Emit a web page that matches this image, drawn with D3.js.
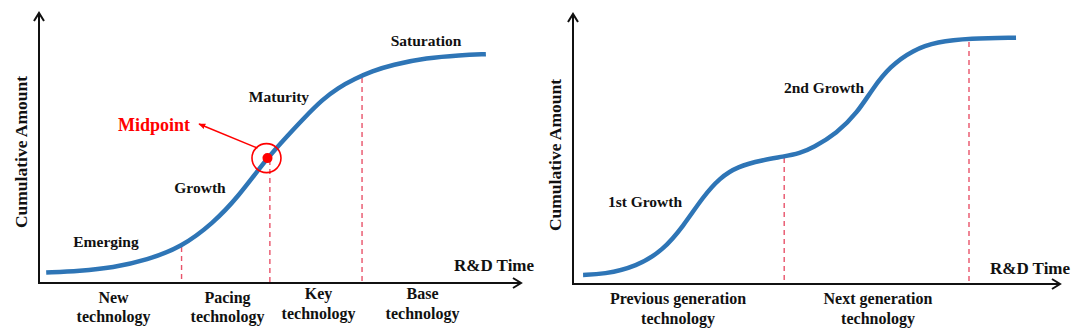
<!DOCTYPE html>
<html>
<head>
<meta charset="utf-8">
<script src="https://cdn.jsdelivr.net/npm/d3@7"></script>
<style>
  html, body { margin: 0; padding: 0; background: #fff; }
  svg { display: block; }
  text { font-family: "Liberation Serif", "Times New Roman", serif; font-weight: bold; fill: #111; }
</style>
</head>
<body>
<svg id="chart" width="1080" height="336"></svg>
<script>
// ---------------- DATA ----------------
// Left panel: single S-curve (time 0-100, cumulative amount 0-100)
const sTime   = [1.5, 8.5, 15.4, 22.5, 29.7, 36.3, 41.3, 47.5, 51.9, 55.4, 59.0, 62.3, 65.8, 69.4, 73.5, 80.8, 87.7, 93.1];
const sAmount = [3.9, 4.5, 5.7, 8.6, 13.4, 22.4, 31.7, 46.6, 55.2, 61.9, 68.4, 72.8, 76.2, 79.0, 81.4, 84.0, 85.0, 85.4];
const sDividerTime   = [29.7, 48.1, 67.3];
const sDividerAmount = [13.4, 45.9, 76.5];
const sMidpoint = {time: 47.6, amount: 46.6};
const sStageLabels = ["Emerging", "Growth", "Maturity", "Saturation"];
const sTechLabels = [["New", "technology"], ["Pacing", "technology"], ["Key", "technology"], ["Base", "technology"]];

// Right panel: double S-curve
const dTime   = [2.1, 6.3, 13.3, 18.8, 22.9, 27.1, 30.6, 34.2, 39.6, 43.8, 47.3, 50.0, 55.0, 59.2, 62.5, 66.0, 70.8, 75.8, 82.7, 92.3];
const dAmount = [3.4, 3.6, 6.5, 12.7, 21.4, 32.6, 39.6, 43.8, 46.3, 47.5, 48.8, 50.8, 56.3, 63.8, 73.1, 81.1, 87.3, 90.4, 91.7, 91.9];
const dDividerTime   = [44.0, 82.5];
const dDividerAmount = [47.0, 90.3];
const dStageLabels = ["1st Growth", "2nd Growth"];
const dTechLabels = [["Previous generation", "technology"], ["Next generation", "technology"]];

const axisXLabel = "R&D Time";
const axisYLabel = "Cumulative Amount";
const midpointLabel = "Midpoint";

// ---------------- STYLE / LAYOUT ----------------
const curveColor = "#2e75b6";
const dashColor = "#e8536a";
const red = "#ff0000";

const svg = d3.select("#chart");

function drawPanel(cfg) {
  const g = svg.append("g");
  const x = d3.scaleLinear().domain([0, 100]).range([cfg.x0, cfg.x1]);
  const y = d3.scaleLinear().domain([0, 100]).range([cfg.y0, cfg.y1]);

  g.append("g").attr("transform", `translate(0,${cfg.y0})`)
    .call(d3.axisBottom(x).tickValues([]).tickSizeOuter(0))
    .call(s => s.select(".domain").attr("stroke", "#111").attr("stroke-width", 2)
      .attr("d", `M${cfg.x0 - 1},0H${cfg.xTip}`));
  g.append("g").attr("transform", `translate(${cfg.x0},0)`)
    .call(d3.axisLeft(y).tickValues([]).tickSizeOuter(0))
    .call(s => s.select(".domain").attr("stroke", "#111").attr("stroke-width", 2)
      .attr("d", `M0,${cfg.y0 + 1}V${cfg.yTip}`));
  g.append("path").attr("fill", "none").attr("stroke", "#111").attr("stroke-width", 2)
    .attr("d", `M${cfg.xTip - 8},${cfg.y0 - 5}L${cfg.xTip},${cfg.y0}L${cfg.xTip - 8},${cfg.y0 + 5}`);
  g.append("path").attr("fill", "none").attr("stroke", "#111").attr("stroke-width", 2)
    .attr("d", `M${cfg.x0 - 5},${cfg.yTip + 8}L${cfg.x0},${cfg.yTip}L${cfg.x0 + 5},${cfg.yTip + 8}`);

  g.selectAll("line.div").data(cfg.divT.map((t, i) => ({t, a: cfg.divA[i]})))
    .enter().append("line").attr("class", "div")
    .attr("x1", d => x(d.t)).attr("x2", d => x(d.t))
    .attr("y1", d => y(d.a)).attr("y2", cfg.y0 - 1)
    .attr("stroke", dashColor).attr("stroke-width", 1.4).attr("stroke-dasharray", "5,4");

  const pts = cfg.t.map((t, i) => [t, cfg.a[i]]);
  g.append("path").datum(pts)
    .attr("fill", "none").attr("stroke", curveColor).attr("stroke-width", 4.5)
    .attr("d", d3.line().x(d => x(d[0])).y(d => y(d[1])).curve(d3.curveBasis));

  cfg.labels.forEach(l => {
    g.append("text").attr("x", l.x).attr("y", l.y).attr("dy", "0.35em")
      .attr("text-anchor", "middle").style("font-size", l.size + "px")
      .style("fill", l.color || "#111").text(l.text);
  });
  g.append("text").attr("transform", `translate(${cfg.yLabelX},${cfg.yLabelY}) rotate(-90)`)
    .attr("dy", "0.35em").attr("text-anchor", "middle").style("font-size", "17.5px").text(axisYLabel);
  g.append("text").attr("x", cfg.xLabelX).attr("y", cfg.xLabelY).attr("dy", "0.35em")
    .attr("text-anchor", "middle").style("font-size", "17px").text(axisXLabel);

  cfg.tech.forEach((lines, i) => {
    const p = cfg.techPos[i];
    lines.forEach((ln, j) => {
      g.append("text").attr("x", p[0]).attr("y", p[1] + j * p[2]).attr("dy", "0.35em")
        .attr("text-anchor", "middle").style("font-size", "16px").text(ln);
    });
  });
  return {g, x, y};
}

const L = drawPanel({
  x0: 39, x1: 519, xTip: 521, y0: 283, y1: 15, yTip: 13,
  t: sTime, a: sAmount, divT: sDividerTime, divA: sDividerAmount,
  labels: [
    {text: sStageLabels[0], x: 106, y: 242, size: 15.5},
    {text: sStageLabels[1], x: 200, y: 188, size: 15.5},
    {text: sStageLabels[2], x: 279, y: 97, size: 15.5},
    {text: sStageLabels[3], x: 426, y: 41, size: 15.5},
    {text: midpointLabel, x: 154, y: 125, size: 18, color: red}
  ],
  yLabelX: 21, yLabelY: 152, xLabelX: 494, xLabelY: 265,
  tech: sTechLabels,
  techPos: [[113.5, 297.5, 19], [227.5, 297.5, 19], [318.5, 293, 20], [422.5, 293, 20]]
});

const mx = L.x(sMidpoint.time), my = L.y(sMidpoint.amount);
L.g.append("circle").attr("cx", mx - 1).attr("cy", my).attr("r", 14.5)
  .attr("fill", "none").attr("stroke", red).attr("stroke-width", 1.6);
L.g.append("circle").attr("cx", mx).attr("cy", my).attr("r", 5).attr("fill", red);
svg.append("defs").append("marker").attr("id", "arr").attr("viewBox", "0 0 10 10")
  .attr("refX", 9).attr("refY", 5).attr("markerWidth", 7).attr("markerHeight", 7)
  .attr("markerUnits", "userSpaceOnUse").attr("orient", "auto")
  .append("path").attr("d", "M0,1L10,5L0,9Z").attr("fill", red);
L.g.append("line").attr("x1", mx - 10).attr("y1", my - 10).attr("x2", 199).attr("y2", 124)
  .attr("stroke", red).attr("stroke-width", 1.5).attr("marker-end", "url(#arr)");

drawPanel({
  x0: 573, x1: 1053, xTip: 1060, y0: 284, y1: 16, yTip: 14,
  t: dTime, a: dAmount, divT: dDividerTime, divA: dDividerAmount,
  labels: [
    {text: dStageLabels[0], x: 645, y: 202, size: 15.5},
    {text: dStageLabels[1], x: 824, y: 88, size: 15.5}
  ],
  yLabelX: 555, yLabelY: 155, xLabelX: 1030, xLabelY: 268,
  tech: dTechLabels,
  techPos: [[678, 298.5, 20], [878, 298.5, 20]]
});
</script>
</body>
</html>
